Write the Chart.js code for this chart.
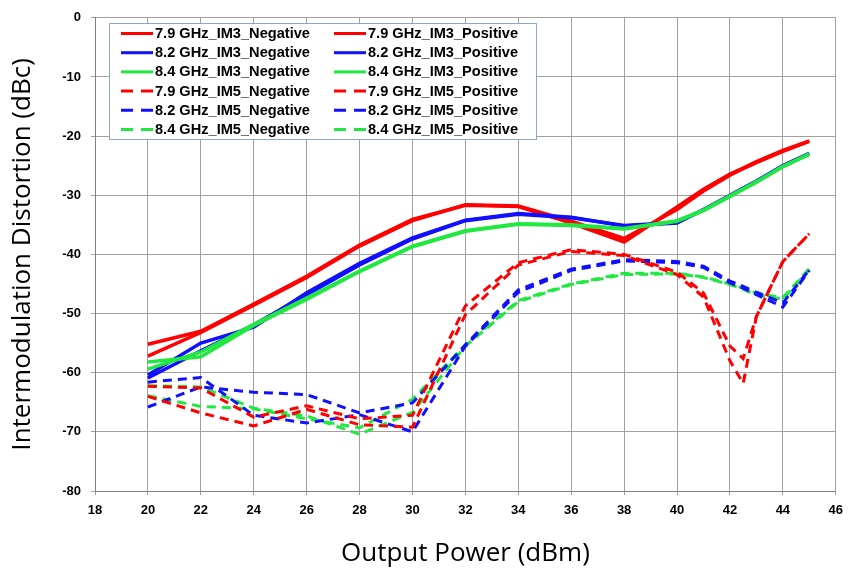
<!DOCTYPE html>
<html>
<head>
<meta charset="utf-8">
<script src="https://cdn.jsdelivr.net/npm/chart.js@4"></script>
<style>
html, body { margin: 0; padding: 0; background: #fff; }
</style>
</head>
<body>
<canvas id="chart1" width="851" height="571"></canvas>
<script>
// output power sweep (dBm)
const powerDbm = [20, 22, 24, 26, 28, 30, 32, 34, 36, 38, 40, 41, 42, 42.5, 43, 44, 45]

// IM3, dBc
const im3Neg79 = [-55.2, -53.0, -48.4, -43.7, -38.4, -34.1, -31.7, -31.9, -34.7, -37.9, -32.0, -29.0, -26.4, -25.4, -24.3, -22.4, -20.8]
const im3Pos79 = [-57.2, -53.2, -48.6, -43.9, -38.6, -34.3, -31.6, -31.8, -34.4, -37.3, -32.4, -29.3, -26.6, -25.5, -24.5, -22.6, -20.9]
const im3Neg82 = [-60.4, -55.0, -52.3, -46.5, -41.5, -37.2, -34.2, -33.1, -33.7, -35.2, -34.7, -32.4, -30.0, -28.8, -27.6, -25.0, -22.9]
const im3Pos82 = [-60.9, -56.3, -51.9, -46.8, -41.8, -37.4, -34.3, -33.2, -33.8, -35.1, -34.6, -32.5, -30.1, -28.9, -27.7, -25.1, -23.0]
const im3Neg84 = [-58.2, -57.3, -52.0, -47.6, -42.9, -38.7, -36.1, -34.9, -35.1, -35.7, -34.4, -32.6, -30.2, -29.0, -27.8, -25.2, -23.0]
const im3Pos84 = [-59.4, -56.5, -51.8, -47.4, -42.8, -38.6, -36.0, -34.8, -35.0, -35.6, -34.3, -32.5, -30.1, -28.9, -27.7, -25.1, -23.1]

// IM5, dBc
const im5Neg79 = [-64.0, -66.8, -69.0, -66.2, -68.8, -69.2, -50.2, -41.8, -39.5, -40.2, -43.4, -47.2, -58.0, -61.8, -50.5, -41.2, -36.5]
const im5Pos79 = [-62.3, -62.6, -67.5, -65.6, -67.8, -67.2, -48.7, -41.4, -39.2, -40.0, -43.0, -46.5, -55.5, -57.6, -50.5, -41.2, -36.5]
const im5Neg82 = [-65.8, -62.4, -63.3, -63.7, -66.8, -65.1, -55.3, -46.0, -42.5, -40.9, -41.2, -42.0, -44.5, -45.4, -46.4, -48.2, -42.6]
const im5Pos82 = [-61.6, -60.8, -67.2, -68.5, -67.1, -70.0, -55.5, -46.4, -42.7, -41.1, -41.4, -42.2, -44.8, -45.7, -46.8, -48.9, -42.7]
const im5Neg84 = [-62.2, -62.4, -66.0, -67.3, -70.4, -66.7, -55.5, -48.0, -45.1, -43.4, -43.3, -43.9, -45.1, -45.9, -46.8, -47.6, -42.5]
const im5Pos84 = [-63.9, -65.7, -66.1, -67.8, -69.3, -64.5, -55.3, -47.8, -45.0, -43.2, -43.2, -43.8, -45.0, -45.7, -46.6, -47.3, -42.4]

const RED = '#ff0000'
const BLUE = '#1010ff'
const GREEN = '#20e840'

const toPoints = ys => powerDbm.map((x, i) => ({x, y: ys[i]}))

const series = (label, ys, color, dashed, order) => ({
    label,
    data: toPoints(ys),
    borderColor: color,
    backgroundColor: color,
    borderWidth: dashed ? 3 : 3.5,
    borderDash: dashed ? [9, 6] : [],
    pointRadius: 0,
    showLine: true,
    tension: 0,
    order
})

// legend reads row by row, two columns
const datasets = [
    series('7.9 GHz_IM3_Negative', im3Neg79, RED, false, 2),
    series('7.9 GHz_IM3_Positive', im3Pos79, RED, false, 2),
    series('8.2 GHz_IM3_Negative', im3Neg82, BLUE, false, 1),
    series('8.2 GHz_IM3_Positive', im3Pos82, BLUE, false, 1),
    series('8.4 GHz_IM3_Negative', im3Neg84, GREEN, false, 0),
    series('8.4 GHz_IM3_Positive', im3Pos84, GREEN, false, 0),
    series('7.9 GHz_IM5_Negative', im5Neg79, RED, true, 3),
    series('7.9 GHz_IM5_Positive', im5Pos79, RED, true, 3),
    series('8.2 GHz_IM5_Negative', im5Neg82, BLUE, true, 4),
    series('8.2 GHz_IM5_Positive', im5Pos82, BLUE, true, 4),
    series('8.4 GHz_IM5_Negative', im5Neg84, GREEN, true, 5),
    series('8.4 GHz_IM5_Positive', im5Pos84, GREEN, true, 5)
]

const legendBox = {
    id: 'legendBox',
    afterDraw(chart) {
        const ctx = chart.ctx
        ctx.save()
        ctx.fillStyle = '#fff'
        ctx.fillRect(109.5, 23.5, 427, 116)
        ctx.strokeStyle = '#8fa6cf'
        ctx.lineWidth = 1
        ctx.strokeRect(109.5, 23.5, 427, 116)
        ctx.font = 'bold 14.6px "Liberation Sans", Arial, sans-serif'
        ctx.textBaseline = 'middle'
        chart.data.datasets.forEach((ds, i) => {
            const col = i % 2
            const row = Math.floor(i / 2)
            const x0 = col ? 334 : 121
            const y = 33.5 + row * 19.2
            ctx.strokeStyle = ds.borderColor
            ctx.lineWidth = 3
            ctx.setLineDash(ds.borderDash.length ? [12, 8] : [])
            ctx.beginPath()
            ctx.moveTo(x0, y)
            ctx.lineTo(x0 + 32, y)
            ctx.stroke()
            ctx.setLineDash([])
            ctx.fillStyle = '#000'
            ctx.fillText(ds.label, x0 + 34, y + 0.5)
        })
        ctx.restore()
    }
}

const tickFont = {family: '"Liberation Sans", Arial, sans-serif', size: 13, weight: 'bold'}
const titleFont = {family: '"Open Sans", sans-serif', size: 26}

var chart1 = document.getElementById('chart1').getContext('2d')
new Chart(chart1, {
    type: 'scatter',
    data: {datasets},
    plugins: [legendBox],
    options: {
        responsive: false,
        animation: false,
        layout: {padding: {top: 11, right: 8, left: 0, bottom: 0}},
        plugins: {legend: {display: false}, tooltip: {enabled: false}},
        scales: {
            x: {
                type: 'linear',
                min: 18,
                max: 46,
                afterFit: s => { s.height = 80 },
                ticks: {stepSize: 2, color: '#000', font: tickFont, padding: 8, maxRotation: 0},
                grid: {color: '#a0a0a0', lineWidth: 1, tickLength: 4},
                border: {color: '#808080'},
                title: {display: true, text: 'Output Power (dBm)', color: '#000', font: titleFont, padding: {top: 0, bottom: 2}}
            },
            y: {
                min: -80,
                max: 0,
                afterFit: s => { s.width = 95 },
                ticks: {stepSize: 10, color: '#000', font: tickFont, padding: 10},
                grid: {color: '#a0a0a0', lineWidth: 1, tickLength: 4},
                border: {color: '#808080'},
                title: {display: true, text: 'Intermodulation Distortion (dBc)', color: '#000', font: titleFont, padding: {top: 7, bottom: 0}}
            }
        }
    }
})
</script>
</body>
</html>
